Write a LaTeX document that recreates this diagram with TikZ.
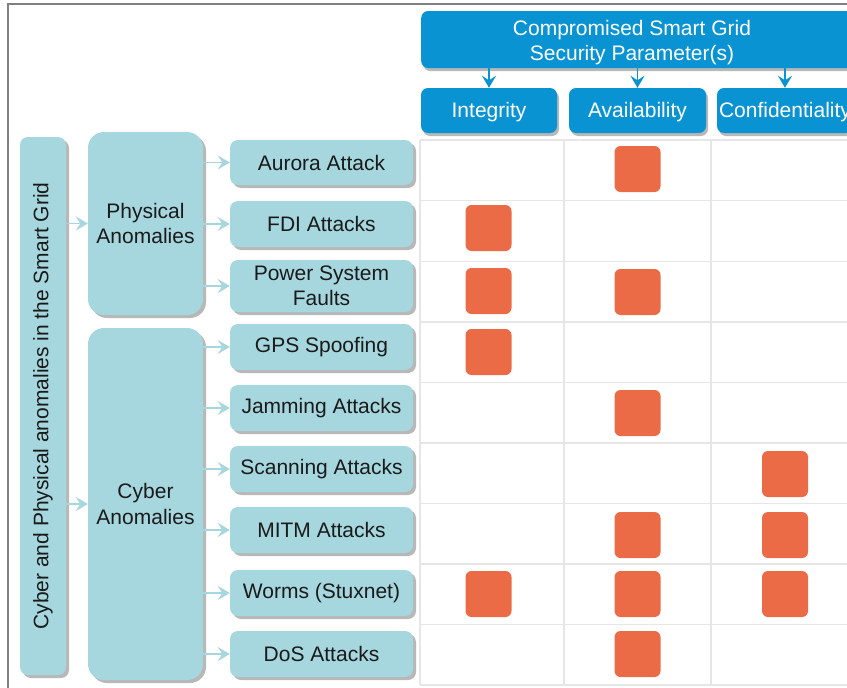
\documentclass[tikz,border=0pt]{standalone}
\usepackage{fontspec}
\setmainfont{Liberation Sans}
\usetikzlibrary{arrows.meta,shadows}
\definecolor{tealbox}{HTML}{A6D7DE}
\definecolor{headblue}{HTML}{0A93D3}
\definecolor{markorange}{HTML}{EC6B47}
\definecolor{shadowgray}{HTML}{B8B8B8}
\definecolor{gridgray}{HTML}{E6E6E6}
\definecolor{framegray}{HTML}{808080}
\definecolor{inktext}{HTML}{1A1A1A}
\begin{document}
\begin{tikzpicture}[x=1pt,y=-1pt,
  font=\fontsize{21}{25.5}\selectfont,
  boxshadow/.style={drop shadow={shadow xshift=3pt,shadow yshift=-3pt,fill=shadowgray,opacity=1}},
  tbox/.style={fill=tealbox, rounded corners=8pt, boxshadow, inner sep=0pt,
    text=inktext, align=center},
  attackbox/.style={tbox, minimum width=183pt, minimum height=46pt},
  groupbox/.style={tbox, rounded corners=16pt, minimum width=115pt},
  bbox/.style={fill=headblue, rounded corners=7pt, inner sep=0pt, text=white,
    align=center, drop shadow={shadow xshift=2pt,shadow yshift=-3pt,fill=shadowgray,opacity=1}},
  tarr/.style={draw=tealbox, line width=1.8pt, -{Stealth[length=12pt,width=14pt,inset=4.5pt]}},
  barr/.style={draw=headblue, line width=1.8pt, -{Stealth[length=12pt,width=14pt,inset=4.5pt]}},
  hit/.style={fill=markorange, rounded corners=6pt, minimum width=46pt, minimum height=46pt, inner sep=0pt},
  gridline/.style={draw=gridgray, line width=1.4pt}
]
\useasboundingbox (0,0) rectangle (847,688);
\clip (0,0) rectangle (847,688);

% frame
\draw[framegray, line width=1.5pt] (8,700) -- (8,4) -- (900,4);

% table grid
\foreach \yy in {140,200.5,261.5,322,382.5,443,503.5,564,624.5,685}
  \draw[gridline] (420,\yy) -- (900,\yy);
\foreach \xx in {420,564,711}
  \draw[gridline] (\xx,140) -- (\xx,685);

% header boxes
\node[bbox, minimum width=480pt, minimum height=57pt, anchor=west] (hdr) at (421,39.5) {};
\node[text=white, align=center, inner sep=0pt] (hdrtext) at (632,42.5) {Compromised Smart Grid\\Security Parameter(s)};
\node[bbox, minimum width=136pt, minimum height=45pt] (integ) at (489,110.5) {};
\node[bbox, minimum width=137pt, minimum height=45pt] (avail) at (637.5,110.5) {};
\node[bbox, minimum width=136pt, minimum height=45pt] (conf) at (785,110.5) {};
\node[text=white, inner sep=0pt] (integtext) at (489,112.5) {Integrity};
\node[text=white, inner sep=0pt] (availtext) at (637.5,112.5) {Availability};
\node[text=white, inner sep=0pt] (conftext) at (785,112.5) {Confidentiality};
\foreach \c in {integ,avail,conf}
  \draw[barr] (hdr.south -| \c) -- (\c.north);

% left hierarchy
\node[tbox, minimum width=46pt, minimum height=538pt] (outer) at (43,406) {};
\node[rotate=90, text=inktext, inner sep=0pt] (outertext) at (43,406) {Cyber and Physical anomalies in the Smart Grid};
\node[groupbox, minimum height=183pt] (phys) at (145.5,223.5) {Physical\\Anomalies};
\node[groupbox, minimum height=352pt] (cyber) at (145.5,504) {Cyber\\Anomalies};
\draw[tarr] (outer.east |- phys) -- (phys.west);
\draw[tarr] (outer.east |- cyber) -- (cyber.west);

\node[attackbox, minimum height=45pt] (aurora) at (321.5,162.5) {Aurora Attack};
\node[attackbox] (fdi) at (321.5,224) {FDI Attacks};
\node[attackbox, minimum height=52pt] (psf) at (321.5,286) {Power System\\Faults};
\node[attackbox] (gps) at (321.5,347) {GPS Spoofing};
\node[attackbox] (jam) at (321.5,408) {Jamming Attacks};
\node[attackbox] (scan) at (321.5,469) {Scanning Attacks};
\node[attackbox] (mitm) at (321.5,530) {MITM Attacks};
\node[attackbox] (worm) at (321.5,593) {Worms (Stuxnet)};
\node[attackbox] (dos) at (321.5,654) {DoS Attacks};

\foreach \a in {aurora,fdi,psf}
  \draw[tarr] (\a -| phys.east) -- (\a.west);
\foreach \a in {gps,jam,scan,mitm,worm,dos}
  \draw[tarr] (\a -| cyber.east) -- (\a.west);

% compromised parameters per anomaly (I = integrity, A = availability, C = confidentiality)
\node[hit] (aurora-A) at (637.5,169) {};
\node[hit] (fdi-I) at (488.5,228) {};
\node[hit] (psf-I) at (488.5,291) {};
\node[hit] (psf-A) at (637.5,292) {};
\node[hit] (gps-I) at (488.5,352) {};
\node[hit] (jam-A) at (637.5,413) {};
\node[hit] (scan-C) at (785,474) {};
\node[hit] (mitm-A) at (637.5,535) {};
\node[hit] (mitm-C) at (785,535) {};
\node[hit] (worm-I) at (488.5,594) {};
\node[hit] (worm-A) at (637.5,594) {};
\node[hit] (worm-C) at (785,594) {};
\node[hit] (dos-A) at (637.5,654) {};
\end{tikzpicture}
\end{document}
